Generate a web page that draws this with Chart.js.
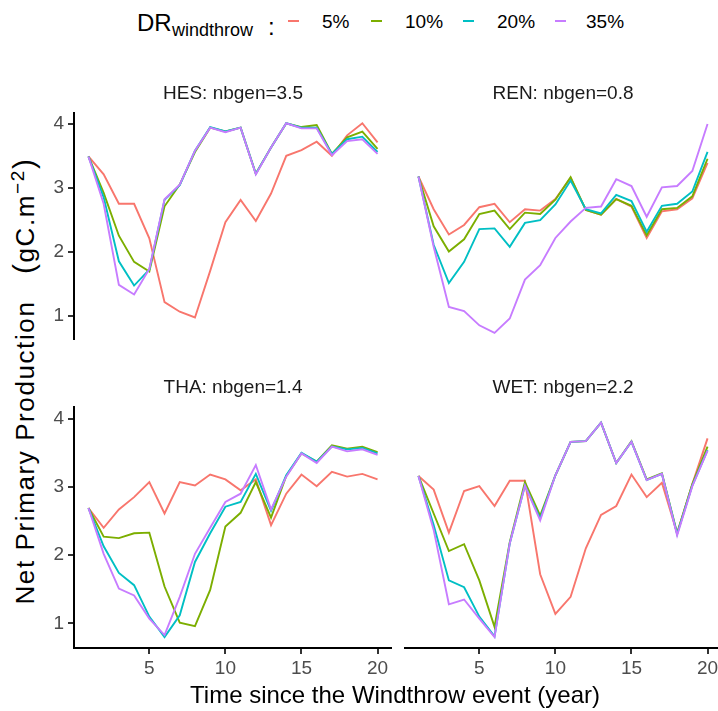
<!DOCTYPE html>
<html>
<head>
<meta charset="utf-8">
<script src="https://cdn.jsdelivr.net/npm/chart.js@4.4.0/dist/chart.umd.min.js"></script>
<style>
    body {
        margin: 0;
        width: 718px;
        height: 711px;
        overflow: hidden;
        background: #fff;
        position: relative;
        font-family: "Liberation Sans", Arial, sans-serif;
        color: #000;
    }
    canvas { position: absolute; }
    .abs { position: absolute; white-space: nowrap; line-height: 1; }
    .key { position: absolute; width: 11px; height: 2px; top: 20px; }
    .lab { position: absolute; top: 12px; font-size: 19px; line-height: 1; }
</style>
</head>
<body>

<!-- legend -->
<div class="abs" style="left:137px; top:11px; font-size:24px;">DR</div>
<div class="abs" style="left:172px; top:21px; font-size:18px;">windthrow</div>
<div class="abs" style="left:268px; top:15px; font-size:24px;">:</div>
<div id="legend"></div>

<canvas id="hes" width="352" height="276" style="left:40px; top:78px;"></canvas>
<canvas id="ren" width="318" height="276" style="left:404px; top:78px;"></canvas>
<canvas id="tha" width="352" height="310" style="left:40px; top:372px;"></canvas>
<canvas id="wet" width="318" height="310" style="left:404px; top:372px;"></canvas>

<div class="abs" style="left:24px; top:381px; font-size:26px; letter-spacing:1.6px; transform:translate(-50%,-50%) rotate(-90deg);">Net Primary Production&nbsp;&nbsp;&nbsp;<span style="font-size:30px;">(</span>gC.m<sup style="font-size:19px; line-height:0;">−2</sup><span style="font-size:30px;">)</span></div>
<div class="abs" style="left:395px; top:695px; font-size:24px; transform:translate(-50%,-50%);">Time since the Windthrow event (year)</div>

<script>
// data
const years = [1, 2, 3, 4, 5, 6, 7, 8, 9, 10, 11, 12, 13, 14, 15, 16, 17, 18, 19, 20];
const drLabels = ['5%', '10%', '20%', '35%'];
const drColors = ['#F8766D', '#7CAE00', '#00BFC4', '#C77CFF'];
const xTicks = [5, 10, 15, 20];
const yTicks = [1, 2, 3, 4];

const hes5  = [3.49, 3.21, 2.75, 2.75, 2.21, 1.21, 1.06, 0.97, 1.70, 2.46, 2.81, 2.48, 2.91, 3.50, 3.59, 3.72, 3.50, 3.82, 4.01, 3.71];
const hes10 = [3.49, 2.92, 2.25, 1.84, 1.69, 2.71, 3.05, 3.56, 3.94, 3.88, 3.94, 3.22, 3.63, 4.01, 3.95, 3.98, 3.53, 3.79, 3.88, 3.61];
const hes20 = [3.49, 2.85, 1.85, 1.47, 1.72, 2.81, 3.04, 3.58, 3.95, 3.88, 3.94, 3.22, 3.63, 4.01, 3.94, 3.94, 3.53, 3.76, 3.80, 3.56];
const hes35 = [3.49, 2.75, 1.48, 1.33, 1.73, 2.82, 3.05, 3.58, 3.94, 3.87, 3.94, 3.21, 3.63, 4.01, 3.93, 3.93, 3.51, 3.73, 3.76, 3.53];

const ren5  = [3.24, 2.76, 2.39, 2.53, 2.79, 2.84, 2.57, 2.76, 2.74, 2.91, 3.22, 2.75, 2.68, 2.91, 2.80, 2.34, 2.73, 2.76, 2.92, 3.44];
const ren10 = [3.24, 2.51, 2.14, 2.32, 2.69, 2.74, 2.47, 2.71, 2.69, 2.90, 3.23, 2.75, 2.68, 2.91, 2.81, 2.38, 2.76, 2.78, 2.95, 3.50];
const ren20 = [3.24, 2.24, 1.68, 1.99, 2.47, 2.48, 2.21, 2.56, 2.60, 2.83, 3.18, 2.76, 2.70, 2.97, 2.88, 2.43, 2.81, 2.84, 3.02, 3.60];
const ren35 = [3.24, 2.21, 1.33, 1.27, 1.06, 0.95, 1.16, 1.73, 1.94, 2.34, 2.58, 2.78, 2.80, 3.20, 3.10, 2.65, 3.08, 3.10, 3.32, 4.01];

const tha5  = [2.69, 2.40, 2.67, 2.85, 3.07, 2.61, 3.07, 3.02, 3.18, 3.11, 2.95, 3.11, 2.44, 2.90, 3.18, 3.01, 3.22, 3.15, 3.19, 3.11];
const tha10 = [2.69, 2.27, 2.25, 2.32, 2.33, 1.54, 1.01, 0.96, 1.49, 2.42, 2.62, 3.07, 2.55, 3.16, 3.49, 3.37, 3.61, 3.56, 3.59, 3.51];
const tha20 = [2.69, 2.13, 1.74, 1.56, 1.10, 0.80, 1.12, 1.90, 2.32, 2.71, 2.78, 3.19, 2.65, 3.17, 3.50, 3.37, 3.59, 3.55, 3.57, 3.49];
const tha35 = [2.69, 2.02, 1.51, 1.41, 1.07, 0.83, 1.39, 2.02, 2.40, 2.78, 2.90, 3.32, 2.67, 3.15, 3.49, 3.35, 3.59, 3.52, 3.55, 3.47];

const wet5  = [3.16, 2.96, 2.33, 2.94, 3.01, 2.72, 3.09, 3.09, 1.72, 1.14, 1.39, 2.10, 2.59, 2.72, 3.18, 2.85, 3.06, 2.32, 3.04, 3.71];
const wet10 = [3.16, 2.61, 2.06, 2.16, 1.63, 0.95, 2.19, 3.07, 2.58, 3.17, 3.66, 3.67, 3.94, 3.35, 3.67, 3.11, 3.20, 2.32, 3.04, 3.59];
const wet20 = [3.16, 2.44, 1.63, 1.53, 1.10, 0.81, 2.17, 3.02, 2.54, 3.17, 3.66, 3.67, 3.94, 3.35, 3.66, 3.10, 3.19, 2.31, 3.02, 3.54];
const wet35 = [3.16, 2.37, 1.28, 1.35, 1.07, 0.80, 2.17, 3.02, 2.51, 3.17, 3.66, 3.67, 3.94, 3.35, 3.66, 3.10, 3.19, 2.29, 3.01, 3.53];

// html legend
const keyLeft = [288, 371, 463, 555];
const labLeft = [322, 405, 497, 586];
const legend = document.getElementById('legend');
drLabels.forEach((label, i) => {
    const key = document.createElement('div');
    key.className = 'key';
    key.style.left = keyLeft[i] + 'px';
    key.style.background = drColors[i];
    legend.appendChild(key);
    const lab = document.createElement('div');
    lab.className = 'lab';
    lab.style.left = labLeft[i] + 'px';
    lab.textContent = label;
    legend.appendChild(lab);
});

const axisColor = '#000';
const tickFont = { family: '"Liberation Sans", Arial, sans-serif', size: 19 };

function makePanel(id, title, series, showX, showY) {
    const ctx = document.getElementById(id).getContext('2d');
    return new Chart(ctx, {
        type: 'line',
        data: {
            datasets: series.map((values, i) => ({
                label: drLabels[i],
                data: years.map((x, j) => ({ x: x, y: values[j] })),
                borderColor: drColors[i],
                backgroundColor: drColors[i],
                borderWidth: 1.9,
                pointRadius: 0,
                tension: 0,
                order: series.length - i // purple drawn on top, like ggplot
            }))
        },
        options: {
            responsive: false,
            animation: false,
            layout: { padding: 0 },
            plugins: {
                legend: { display: false },
                tooltip: { enabled: false },
                title: {
                    display: true,
                    text: title,
                    fullSize: false,
                    color: '#1a1a1a',
                    font: { family: '"Liberation Sans", Arial, sans-serif', size: 19, weight: 'normal', lineHeight: 1.2 },
                    padding: { top: 4, bottom: 8.2 }
                }
            },
            scales: {
                x: {
                    type: 'linear',
                    min: 0.05,
                    max: 20.95,
                    display: showX,
                    afterBuildTicks: (scale) => { scale.ticks = xTicks.map(v => ({ value: v })); },
                    afterFit: (scale) => { if (showX) scale.height = 34; },
                    border: { display: true, color: axisColor, width: 2 },
                    grid: { drawOnChartArea: false, drawTicks: true, tickLength: 6, color: '#333', lineWidth: 2 },
                    ticks: { font: tickFont, color: '#4d4d4d', padding: 3, maxRotation: 0 }
                },
                y: {
                    type: 'linear',
                    min: 0.64,
                    max: 4.17,
                    display: showY,
                    afterBuildTicks: (scale) => { scale.ticks = yTicks.map(v => ({ value: v })); },
                    afterFit: (scale) => { if (showY) scale.width = 34; },
                    border: { display: true, color: axisColor, width: 2 },
                    grid: { drawOnChartArea: false, drawTicks: true, tickLength: 6, color: '#333', lineWidth: 2 },
                    ticks: { font: tickFont, color: '#4d4d4d', padding: 4 }
                }
            }
        }
    });
}

makePanel('hes', 'HES: nbgen=3.5', [hes5, hes10, hes20, hes35], false, true);
makePanel('ren', 'REN: nbgen=0.8', [ren5, ren10, ren20, ren35], false, false);
makePanel('tha', 'THA: nbgen=1.4', [tha5, tha10, tha20, tha35], true, true);
makePanel('wet', 'WET: nbgen=2.2', [wet5, wet10, wet20, wet35], true, false);
</script>
</body>
</html>
